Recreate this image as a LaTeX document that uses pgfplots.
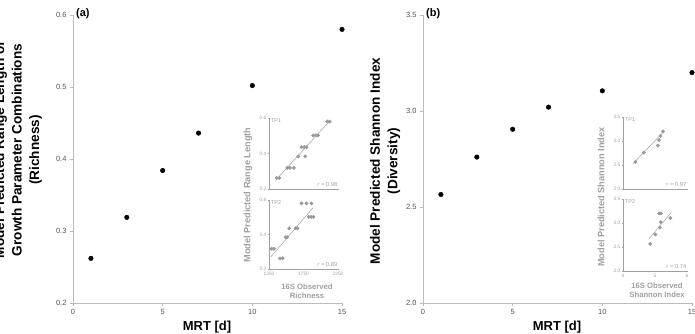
\documentclass[border=0pt]{standalone}
\usepackage{pgfplots}
\pgfplotsset{compat=1.18}
\usepackage{fontspec}
\setmainfont{Liberation Sans}
\definecolor{axgray}{HTML}{BBBBBB}
\definecolor{tickgray}{HTML}{555555}
\definecolor{insgray}{HTML}{A0A0A0}
\definecolor{insmark}{HTML}{9A9A9A}
\pgfplotsset{
  mainax/.style={
    scale only axis, anchor=south west,
    width=269pt, height=288pt,
    axis lines=left, axis line style={axgray, -, line width=0.8pt},
    tick align=outside, major tick length=3pt,
    tick style={axgray, line width=0.8pt},
    xmin=0, xmax=15, xtick={0,5,10,15},
    ticklabel style={font=\fontsize{7.5}{8}\selectfont, text=tickgray},
    /pgf/number format/assume math mode=true,
    clip=false,
  },
  insax/.style={
    scale only axis, anchor=south west,
    width=69pt, height=71pt,
    axis lines=left, axis line style={insgray, -, line width=0.5pt},
    tick align=outside, major tick length=1.5pt,
    tick style={insgray, line width=0.5pt},
    ticklabel style={font=\fontsize{4.8}{5}\selectfont, text=insgray, inner sep=1pt},
    /pgf/number format/assume math mode=true,
    clip=false,
  },
  mainpts/.style={only marks, mark=*, mark size=2.3pt, black},
  inspts/.style={only marks, mark=*, mark size=1.7pt, insmark, mark options={draw=insmark, fill=insmark}},
  insline/.style={no marks, insgray, line width=0.5pt},
}
\begin{document}
\begin{tikzpicture}
\path[use as bounding box, clip] (0,0) rectangle (695pt,334pt);
% ---------- panel (a)
\begin{axis}[mainax, at={(73pt,31pt)}, ymin=0.2, ymax=0.6, ytick={0.2,0.3,0.4,0.5,0.6},
  yticklabel style={/pgf/number format/.cd, fixed, fixed zerofill, precision=1}]
\addplot[mainpts] coordinates {(1,0.262) (3,0.319) (5,0.384) (7,0.436) (10,0.502) (15,0.580)};
\end{axis}
\node[font=\bfseries\fontsize{11}{13}\selectfont, anchor=north west, inner sep=0pt] at (76pt,326pt) {(a)};
\node[font=\bfseries\fontsize{13}{15}\selectfont] at (207pt,7pt) {MRT [d]};
\node[font=\bfseries\fontsize{13.6}{17.5}\selectfont, rotate=90, align=center] at (18pt,184pt)
  {Model Predicted Range Length of\\Growth Parameter Combinations\\(Richness)};
% inset TP1 (a)
\begin{axis}[insax, at={(269pt,145pt)}, xmin=1250, xmax=2250, ymin=0.2, ymax=0.6,
  xtick={1250,1750,2250}, xticklabels={}, ytick={0.2,0.4,0.6},
  yticklabel style={/pgf/number format/.cd, fixed, fixed zerofill, precision=1}]
\addplot[insline] coordinates {(1346,0.249) (2115,0.577)};
\addplot[inspts] coordinates {(1360,0.262) (1400,0.262) (1515,0.319) (1553,0.319) (1610,0.319)
  (1673,0.384) (1774,0.384) (1721,0.436) (1760,0.436) (1793,0.436)
  (1889,0.502) (1928,0.502) (1961,0.502) (2096,0.58) (2130,0.58)};
\node[anchor=north west, font=\fontsize{5.5}{6}\selectfont, text=insgray, inner sep=0.5pt] at (rel axis cs:0.02,1.0) {TP1};
\node[anchor=south east, font=\fontsize{5.8}{6}\selectfont, text=insgray, inner sep=0.5pt] at (rel axis cs:1.0,0.02) {\textit{r} = 0.98};
\end{axis}
% inset TP2 (a)
\begin{axis}[insax, at={(269pt,65pt)}, height=69pt, xmin=1250, xmax=2250, ymin=0.2, ymax=0.6,
  xtick={1250,1750,2250}, ytick={0.2,0.4,0.6},
  xticklabel style={/pgf/number format/.cd, fixed, set thousands separator={}},
  yticklabel style={/pgf/number format/.cd, fixed, fixed zerofill, precision=1}]
\addplot[insline] coordinates {(1274,0.269) (1889,0.556)};
\addplot[inspts] coordinates {(1288,0.317) (1322,0.317) (1409,0.262) (1447,0.262) (1490,0.384) (1514,0.384)
  (1543,0.436) (1635,0.436) (1663,0.436) (1721,0.58) (1793,0.58) (1865,0.58)
  (1827,0.502) (1861,0.502) (1894,0.502)};
\node[anchor=north west, font=\fontsize{5.5}{6}\selectfont, text=insgray, inner sep=0.5pt] at (rel axis cs:0.02,1.0) {TP2};
\node[anchor=south east, font=\fontsize{5.8}{6}\selectfont, text=insgray, inner sep=0.5pt] at (rel axis cs:1.0,0.02) {\textit{r} = 0.89};
\end{axis}
\node[font=\bfseries\fontsize{9.2}{10}\selectfont, text=insgray, rotate=90] at (248pt,139pt) {Model Predicted Range Length};
\node[font=\bfseries\fontsize{7.7}{9.5}\selectfont, text=insgray, align=center] at (307pt,43pt) {16S Observed\\Richness};
% ---------- panel (b)
\begin{axis}[mainax, at={(423pt,31pt)}, ymin=2.0, ymax=3.5, ytick={2.0,2.5,3.0,3.5},
  yticklabel style={/pgf/number format/.cd, fixed, fixed zerofill, precision=1}]
\addplot[mainpts] coordinates {(1,2.565) (3,2.76) (5,2.905) (7,3.02) (10,3.105) (15,3.2)};
\end{axis}
\node[font=\bfseries\fontsize{11}{13}\selectfont, anchor=north west, inner sep=0pt] at (426pt,326pt) {(b)};
\node[font=\bfseries\fontsize{13}{15}\selectfont] at (557pt,7pt) {MRT [d]};
\node[font=\bfseries\fontsize{13.6}{17.5}\selectfont, rotate=90, align=center] at (385pt,173pt)
  {Model Predicted Shannon Index\\(Diversity)};
% inset TP1 (b)
\begin{axis}[insax, at={(623pt,145pt)}, width=64pt, height=72pt, xmin=4, xmax=6, ymin=2.0, ymax=3.5,
  xtick={4,5,6}, xticklabels={}, ytick={2.0,2.5,3.0,3.5},
  yticklabel style={/pgf/number format/.cd, fixed, fixed zerofill, precision=1}]
\addplot[insline] coordinates {(4.3,2.52) (5.28,3.2)};
\addplot[inspts] coordinates {(4.39,2.565) (4.65,2.76) (5.09,2.905) (5.125,3.02) (5.17,3.105) (5.25,3.2)};
\node[anchor=north west, font=\fontsize{5.5}{6}\selectfont, text=insgray, inner sep=0.5pt] at (rel axis cs:0.02,1.0) {TP1};
\node[anchor=south east, font=\fontsize{5.8}{6}\selectfont, text=insgray, inner sep=0.5pt] at (rel axis cs:1.0,0.02) {r = 0.97};
\end{axis}
% inset TP2 (b)
\begin{axis}[insax, at={(623pt,63pt)}, width=64pt, height=72pt, xmin=4, xmax=6, ymin=2.0, ymax=3.5,
  xtick={4,5,6}, ytick={2.0,2.5,3.0,3.5},
  yticklabel style={/pgf/number format/.cd, fixed, fixed zerofill, precision=1}]
\addplot[insline] coordinates {(4.82,2.68) (5.51,3.22)};
\addplot[inspts] coordinates {(4.85,2.565) (5.01,2.76) (5.15,2.905) (5.18,3.02) (5.48,3.105) (5.13,3.2) (5.19,3.2)};
\node[anchor=north west, font=\fontsize{5.5}{6}\selectfont, text=insgray, inner sep=0.5pt] at (rel axis cs:0.02,1.0) {TP2};
\node[anchor=south east, font=\fontsize{5.8}{6}\selectfont, text=insgray, inner sep=0.5pt] at (rel axis cs:1.0,0.02) {r = 0.74};
\end{axis}
\node[font=\bfseries\fontsize{9.2}{10}\selectfont, text=insgray, rotate=90] at (601pt,137pt) {Model Predicted Shannon Index};
\node[font=\bfseries\fontsize{7.7}{9.5}\selectfont, text=insgray, align=center] at (657pt,44pt) {16S Observed\\Shannon Index};
\end{tikzpicture}
\end{document}
